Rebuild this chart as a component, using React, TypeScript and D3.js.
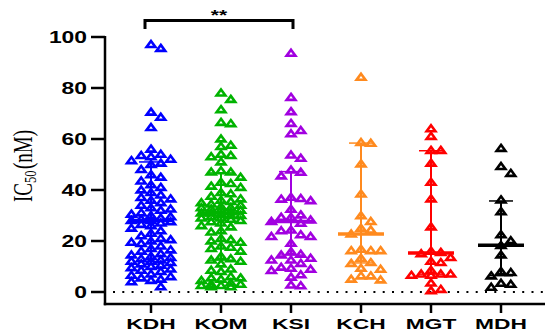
import React from "react";
import * as d3 from "d3";

const categories = ["KDH", "KOM", "KSI", "KCH", "MGT", "MDH"];
const colors = ["#0000FF", "#00B300", "#A100E0", "#FF8A1E", "#FF0000", "#000000"];

const kdh = [97, 95.5, 70.5, 68.5, 64.5, 56, 54, 53.5, 53, 52, 51.5, 50.5, 50, 48, 46, 45, 43.5, 42, 41, 40, 39, 38, 37, 36.5, 36, 35, 34, 33, 32.5, 32, 31, 30.5, 30, 29.5, 29, 28.5, 28, 28, 27.5, 27, 26.5, 26, 25, 24, 23, 22, 21, 20.5, 20, 19.5, 19, 18, 17, 16.5, 16, 15, 14.5, 14, 13.5, 13, 12.5, 12, 12, 11.5, 11, 10.5, 10, 9.5, 9, 8.5, 8, 7, 6.5, 6, 5.5, 5, 4.5, 4, 2];
const kom = [78, 75.5, 71.5, 66.5, 66, 60, 57.5, 57, 54, 53.5, 53, 51, 47.5, 47, 47, 45, 43, 42.5, 41.5, 41, 39, 38.5, 37.5, 36.5, 36, 35.5, 35, 34.5, 34, 33.5, 33, 33, 32.5, 32, 32, 31.5, 31, 31, 30.5, 30, 30, 29.5, 29, 29, 28.5, 28, 27.5, 27, 26, 25.5, 24, 23.5, 21, 20.5, 20, 19.5, 18, 17.5, 17, 16, 14, 13, 12.5, 12, 11, 9, 8.5, 8, 6, 5.5, 5.5, 5, 4.5, 3.5, 3, 3, 2.5, 2.5, 2, 2];
const ksi = [93.6, 76.3, 70.7, 66.1, 63.3, 62, 53.7, 52.4, 47.8, 46.9, 45.5, 37.1, 36.6, 36.4, 35.8, 32.4, 30.2, 29.3, 29.3, 28.2, 27.6, 26.9, 24.3, 24, 22.4, 21.7, 21.7, 19.1, 15.8, 14.8, 14.5, 13.2, 12.5, 12.5, 11.2, 9.7, 9.3, 8.9, 8.4, 6.7, 5.8, 2.7, 2.4];
const kch = [84.2, 58.6, 58.3, 50.2, 38.4, 29.9, 27.6, 25, 24.3, 22.7, 16.7, 16.2, 16.2, 16.2, 13.2, 11.5, 11.2, 9.3, 8.9, 6.3, 6.3, 5, 4.7];
const mgt = [64, 61, 55.5, 55.5, 50.5, 43, 36.5, 25.5, 16, 15.5, 15, 13.5, 12, 11.5, 8.5, 7, 7, 7, 6.5, 6.5, 3.5, 1, 0.5];
const mdh = [56.3, 49.2, 46.5, 36.1, 31.5, 22.4, 20.1, 18.2, 14.5, 8, 7.6, 6.3, 3.4, 3, 1.8];
const groups = [kdh, kom, ksi, kch, mgt, mdh];

const medians = [28, 31, 27.6, 22.7, 15.3, 18.3];
const upperBars = [51, 46.7, 47.2, 58.4, 55.4, 35.7];
const lowerBars = [12, 12.5, 14.5, 11.4, 7, 6.4];
const yTicks = [0, 20, 40, 60, 80, 100];
const sigPair = ["KDH", "KSI"];
const sigLabel = "**";

const W = 545;
const H = 332;

const y = d3.scaleLinear().domain([0, 100]).range([292, 37]);
const x = d3.scalePoint<string>().domain(categories).range([151, 501]);

function layout(values: number[], cx: number) {
  const placed: { x: number; y: number }[] = [];
  const sorted = [...values].sort((a, b) => b - a);
  const step = 9.8;
  const order = [0, 1, -1, 2, -2];
  for (const v of sorted) {
    const py = y(v);
    let best = cx;
    let bestScore = -Infinity;
    for (const k of order) {
      const px = cx + k * step;
      let score = Infinity;
      for (const p of placed) {
        const s = Math.max(Math.abs(p.x - px) / 8, Math.abs(p.y - py) / 7.5);
        if (s < score) score = s;
      }
      if (score >= 1) {
        best = px;
        bestScore = score;
        break;
      }
      if (score > bestScore + 0.05) {
        bestScore = score;
        best = px;
      }
    }
    placed.push({ x: best, y: py });
  }
  return placed;
}

const tri = "M0,-3.6L4.4,2.4L-4.4,2.4Z";

export default function App() {
  const x0 = 105;
  const xEnd = 545;
  const axisY = 304;
  const lx = x(sigPair[0])! - 6;
  const rx = x(sigPair[1])! + 2;
  return (
    <svg
      width={W}
      height={H}
      style={{ position: "fixed", left: 0, top: 0, background: "#fff" }}
    >
      <rect width={W} height={H} fill="#fff" />
      <line
        x1={113}
        x2={xEnd}
        y1={y(0)}
        y2={y(0)}
        stroke="#000"
        strokeWidth={2}
        strokeDasharray="2,7.3"
      />
      {groups.map((vals, gi) => {
        const cx = x(categories[gi])!;
        const pts = layout(vals, cx);
        return (
          <g key={gi} stroke={colors[gi]} fill="none" strokeWidth={2.6} strokeLinejoin="miter">
            {pts.map((p, i) => (
              <path key={i} d={tri} transform={`translate(${p.x},${p.y})`} />
            ))}
          </g>
        );
      })}
      {categories.map((c, gi) => {
        const cx = x(c)!;
        return (
          <g key={c} stroke={colors[gi]}>
            <line x1={cx} x2={cx} y1={y(upperBars[gi])} y2={y(lowerBars[gi])} strokeWidth={2} />
            <line x1={cx - 12} x2={cx + 12} y1={y(upperBars[gi])} y2={y(upperBars[gi])} strokeWidth={1.5} />
            <line x1={cx - 12} x2={cx + 12} y1={y(lowerBars[gi])} y2={y(lowerBars[gi])} strokeWidth={1.5} />
            <line x1={cx - 23} x2={cx + 23} y1={y(medians[gi])} y2={y(medians[gi])} strokeWidth={3.5} />
          </g>
        );
      })}
      <line x1={x0} x2={x0} y1={y(100) - 1} y2={axisY + 1.2} stroke="#000" strokeWidth={2.5} />
      {yTicks.map((t) => (
        <g key={t}>
          <line x1={91} x2={x0} y1={y(t)} y2={y(t)} stroke="#000" strokeWidth={2.5} />
          <text
            transform={`translate(87,${y(t) + 6}) scale(1.36,1)`}
            textAnchor="end"
            fontFamily="Liberation Sans, Arial, sans-serif"
            fontWeight="bold"
            fontSize={16.8}
            fill="#000"
          >
            {t}
          </text>
        </g>
      ))}
      <line x1={x0 - 1.2} x2={xEnd} y1={axisY} y2={axisY} stroke="#000" strokeWidth={2.5} />
      {categories.map((c) => (
        <g key={c}>
          <line x1={x(c)!} x2={x(c)!} y1={axisY} y2={313} stroke="#000" strokeWidth={2.5} />
          <text
            transform={`translate(${x(c)!},329) scale(1.52,1)`}
            textAnchor="middle"
            fontFamily="Liberation Sans, Arial, sans-serif"
            fontWeight="bold"
            fontSize={15}
            fill="#000"
          >
            {c}
          </text>
        </g>
      ))}
      <text
        transform="translate(32,166) scale(1.4,1) rotate(-90)"
        textAnchor="middle"
        fontFamily="Liberation Serif, Times New Roman, serif"
        fontSize={19}
        fill="#000"
      >
        IC
        <tspan fontSize={12.5} dy={3}>50</tspan>
        <tspan dy={-3} dx={1.5}>(nM)</tspan>
      </text>
      <path
        d={`M${lx},29V20.5H${rx}V29`}
        fill="none"
        stroke="#000"
        strokeWidth={3}
        strokeLinejoin="miter"
      />
      <text
        transform={`translate(${(lx + rx) / 2},20) scale(1.5,1)`}
        textAnchor="middle"
        fontFamily="Liberation Sans, Arial, sans-serif"
        fontWeight="bold"
        fontSize={14}
        fill="#000"
      >
        {sigLabel}
      </text>
    </svg>
  );
}
